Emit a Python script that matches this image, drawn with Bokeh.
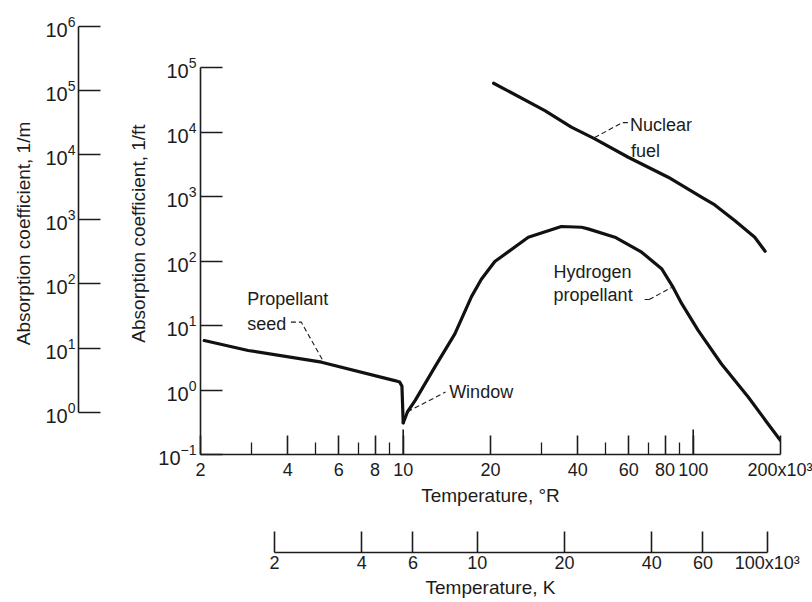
import math

from bokeh.plotting import figure
from bokeh.models import (LogAxis, LinearAxis, FixedTicker, Range1d, LogScale,
                          BasicTickFormatter)
from bokeh.core.properties import value
from bokeh.embed import file_html
from bokeh.resources import INLINE

# Temperature in thousands of degrees Rankine, absorption coefficient in 1/ft
seed_temp = [2.06, 2.92, 5.23, 9.35, 9.72, 9.9, 10.0]
seed_coef = [5.85, 4.1, 2.7, 1.40, 1.33, 1.15, 0.31]

hydrogen_temp = [10.0, 10.35, 11.0, 12.85, 15.07, 17.2, 18.6, 20.7, 27.0, 35.1,
                 41.2, 43.4, 53.7, 66.4, 77.8, 85.3, 91.2, 104, 125, 155, 181, 200]
hydrogen_coef = [0.31, 0.46, 0.69, 2.26, 7.4, 28, 52, 98, 234, 343,
                 334, 315, 234, 137, 76, 39, 22, 8.4, 2.55, 0.77, 0.30, 0.165]

fuel_temp = [20.5, 30.8, 38.0, 45.8, 59.7, 82.0, 106.8, 118.7, 139, 163, 177]
fuel_coef = [57000, 21500, 11900, 7830, 4060, 1990, 975, 740, 425, 234, 142]

# Axis ticks
rankine_ticks = [2, 4, 6, 8, 10, 20, 40, 60, 80, 100, 200]
rankine_minor = [3, 5, 7, 9, 30, 50, 70, 90]
decade_ticks = [10, 100]
kelvin_ticks = [2, 4, 6, 10, 20, 40, 60, 100]
per_ft_ticks = [0.1, 1, 10, 100, 1e3, 1e4, 1e5]
per_m_ticks = [1, 10, 100, 1e3, 1e4, 1e5, 1e6]

FONT = "Liberation Sans"
INK = "#1c1c1c"

FRAME_TOP, FRAME_BOTTOM = 12, 454
y_lo, y_hi = 0.1, 10 ** 5.853
px_per_decade = (FRAME_BOTTOM - FRAME_TOP) / (math.log10(y_hi) - math.log10(y_lo))

p = figure(width=812, height=602, x_axis_type="log", y_axis_type="log",
           x_range=Range1d(2, 200), y_range=Range1d(y_lo, y_hi),
           output_backend="svg", toolbar_location=None,
           min_border_left=200, min_border_right=32,
           min_border_top=FRAME_TOP, min_border_bottom=602 - FRAME_BOTTOM)
p.outline_line_color = None
p.grid.visible = False
p.background_fill_color = "white"
p.border_fill_color = "white"

p.extra_y_ranges = {"per_m": Range1d(10 ** -0.652, 10 ** 6.211)}
p.extra_y_scales = {"per_m": LogScale()}
p.extra_x_ranges = {"kelvin": Range1d(2 / 1.8, 200 / 1.8)}
p.extra_x_scales = {"kelvin": LogScale()}


def style_axis(ax, label, tick_in, label_standoff, title_standoff, label_size="18px"):
    ax.axis_label = label
    ax.axis_label_text_font = FONT
    ax.axis_label_text_font_size = "19px"
    ax.axis_label_text_font_style = "normal"
    ax.axis_label_text_color = INK
    ax.axis_label_standoff = title_standoff
    ax.major_label_text_font = FONT
    ax.major_label_text_font_size = label_size
    ax.major_label_text_color = INK
    ax.major_label_standoff = label_standoff
    ax.axis_line_color = INK
    ax.axis_line_width = 1.6
    ax.major_tick_line_color = INK
    ax.major_tick_line_width = 1.6
    ax.major_tick_in = tick_in
    ax.major_tick_out = 0
    ax.minor_tick_in = 0
    ax.minor_tick_out = 0


def spacer(size):
    return LinearAxis(ticker=FixedTicker(ticks=[]), axis_line_color=None,
                      major_tick_line_color=None, minor_tick_line_color=None,
                      major_tick_out=0, major_tick_in=0, minor_tick_out=0, minor_tick_in=0,
                      major_label_standoff=0, axis_label=" ", axis_label_standoff=size,
                      axis_label_text_font_size="1px")


# Main axes: 1/ft and degrees R
y_main = p.left[0]
style_axis(y_main, "Absorption coefficient, 1/ft", 22, 4, 6, "20px")
y_main.ticker = FixedTicker(ticks=per_ft_ticks, minor_ticks=[])
y_main.bounds = (per_ft_ticks[0], per_ft_ticks[-1])

x_main = p.below[0]
style_axis(x_main, "Temperature, \u00b0R", 19, 5, 2)
x_main.ticker = FixedTicker(ticks=rankine_ticks, minor_ticks=rankine_minor)
x_main.formatter = BasicTickFormatter()
x_main.major_label_overrides = {200: "200x10\u00b3"}
x_main.minor_tick_in = 12
x_main.minor_tick_line_color = INK
x_main.minor_tick_line_width = 1.3
x_main.bounds = (2, 200)

# Secondary scale in 1/m
p.add_layout(spacer(43), "left")
m_axis = LogAxis(y_range_name="per_m")
style_axis(m_axis, "Absorption coefficient, 1/m", 22, 3, 8, "20px")
m_axis.ticker = FixedTicker(ticks=per_m_ticks, minor_ticks=[])
m_axis.bounds = (per_m_ticks[0], per_m_ticks[-1])
p.add_layout(m_axis, "left")

# Secondary scale in K
p.add_layout(spacer(40), "below")
k_axis = LogAxis(x_range_name="kelvin")
style_axis(k_axis, "Temperature, K", 21, 0, 1)
k_axis.ticker = FixedTicker(ticks=kelvin_ticks, minor_ticks=[])
k_axis.formatter = BasicTickFormatter()
k_axis.major_label_overrides = {100: "100x10\u00b3"}
k_axis.bounds = (kelvin_ticks[0], kelvin_ticks[-1])
p.add_layout(k_axis, "below")

# Longer ticks at the decades of the temperature scale
tall = y_lo * 10 ** (25 / px_per_decade)
p.segment(x0=decade_ticks, y0=[y_lo] * len(decade_ticks), x1=decade_ticks,
          y1=[tall] * len(decade_ticks), line_color=INK, line_width=1.6)

# Curves
curve_style = dict(line_color="#111111", line_width=3.2, line_join="round", line_cap="round")
p.line(seed_temp, seed_coef, **curve_style)
p.line(hydrogen_temp, hydrogen_coef, **curve_style)
p.line(fuel_temp, fuel_coef, **curve_style)

# Callout leaders
leader_xs = [
    [4.1, 4.45, 5.3],
    [10.35, 14.0],
    [45.7, 57.0, 59.5],
    [70.5, 84.2],
]
leader_ys = [
    [11.3, 11.3, 2.8],
    [0.46, 0.93],
    [8220, 14000, 14000],
    [25.3, 38.8],
]
p.multi_line(leader_xs, leader_ys, line_color=INK, line_width=1.1, line_dash="5 3")
p.line([68.0, 70.5], [25.3, 25.3], line_color=INK, line_width=1.1)

callout_x = [2.9, 2.9, 14.4, 60.5, 61.0, 33.0, 33.0]
callout_y = [26.2, 10.7, 0.915, 13060, 5160, 68.7, 29.2]
callout_text = ["Propellant", "seed", "Window", "Nuclear", "fuel", "Hydrogen", "propellant"]
p.text(callout_x, callout_y, text=callout_text, text_font=value(FONT),
       text_font_size="18px", text_color=INK, text_align="left", text_baseline="middle")

open("out.html", "w").write(file_html(p, INLINE))
